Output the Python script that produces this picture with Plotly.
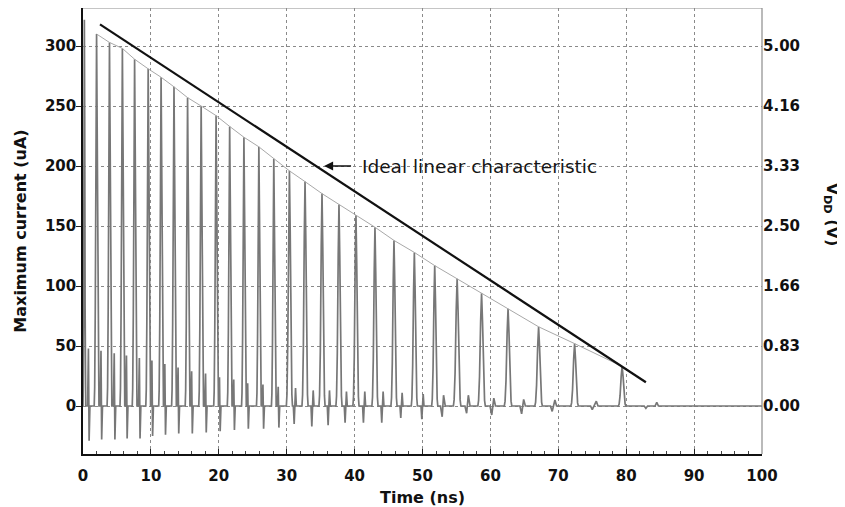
import plotly.graph_objects as go

# ---- data ----
# large current pulses: time (ns) and peak current (uA)
peak_t = [0.2, 2.0, 3.9, 5.8, 7.6, 9.6, 11.5, 13.4, 15.4, 17.4, 19.6, 21.6, 23.7, 25.9, 28.1,
          30.4, 32.7, 35.2, 37.7, 40.2, 43.0, 45.8, 48.8, 51.8, 55.1, 58.7, 62.6, 67.1, 72.4, 79.4]
peak_h = [322, 310, 303, 298, 289, 281, 274, 266, 257, 250, 242, 233, 224, 216, 206,
          196, 187, 177, 168, 159, 149, 138, 128, 117, 106, 94, 81, 66, 52, 33]

# small ringing after each pulse: negative dip and positive bump
dip_t = [0.9, 2.75, 4.7, 6.5, 8.4, 10.25, 12.15, 14.1, 16.1, 18.15, 20.2, 22.3, 24.35, 26.6, 28.85,
         31.1, 33.7, 36.1, 38.6, 41.3, 44.0, 46.8, 49.9, 52.9, 56.5, 60.2, 64.6, 69.1, 75.0, 82.9]
dip_v = [-29, -28, -28, -27, -27, -25, -24, -23, -23, -22, -21, -20, -19, -19, -18,
         -15, -17, -16, -14, -14, -14, -10, -11, -9, -6, -7.5, -6.5, -4.5, -3, -2]
bump_t = [0.8, 2.65, 4.6, 6.4, 8.3, 10.15, 12.05, 14.0, 16.0, 18.05, 20.1, 22.2, 24.25, 26.5, 28.75,
          31.3, 33.9, 36.3, 38.8, 41.5, 44.2, 47.0, 50.1, 53.1, 56.75, 60.5, 64.9, 69.5, 75.6, 84.5]
bump_h = [48, 46, 44, 42, 40, 38, 35, 32, 29, 27, 24, 22, 19, 18, 16,
          15, 13, 13, 12, 12, 12, 11, 10, 9, 9, 6.5, 5.5, 5, 4, 3]

# ideal linear characteristic (VDD ramp, volts)
ideal_t = [2.5, 82.9]
ideal_v = [5.30, 0.33]

x_ticks = [0, 10, 20, 30, 40, 50, 60, 70, 80, 90, 100]
y_ticks = [0, 50, 100, 150, 200, 250, 300]
v_ticks = [0, 50 / 60, 100 / 60, 150 / 60, 200 / 60, 250 / 60, 300 / 60]
v_labels = ["0.00", "0.83", "1.66", "2.50", "3.33", "4.16", "5.00"]

# ---- build the waveform polyline from the read values ----
sig_t = [0.0]
sig_i = [0.0]
shape_off = [-1.0, -0.8, -0.55, -0.25, 0.0, 0.25, 0.55, 0.8, 1.0]
shape_frac = [0.0, 0.05, 0.26, 0.75, 1.0, 0.75, 0.26, 0.05, 0.0]
for k in range(len(peak_t)):
    t0 = peak_t[k]
    w = 0.2 if k == 0 else (0.35 if t0 < 30 else (0.45 if t0 < 55 else 0.55))
    for o, f in zip(shape_off, shape_frac):
        sig_t.append(t0 + o * w)
        sig_i.append(peak_h[k] * f)
    feats = sorted([(dip_t[k], dip_v[k]), (bump_t[k], bump_h[k])])
    fw = 0.12 if feats[0][0] < 50 else 0.25
    (ta, va), (tb, vb) = feats
    sig_t += [ta - fw, ta]
    sig_i += [0.0, va]
    if tb - ta > 2 * fw:
        sig_t += [ta + fw, tb - fw]
        sig_i += [0.0, 0.0]
    sig_t += [tb, tb + fw]
    sig_i += [vb, 0.0]
sig_t.append(100.0)
sig_i.append(0.0)

FONT = "DejaVu Sans"

fig = go.Figure()
fig.add_trace(go.Scatter(x=sig_t, y=sig_i, mode="lines",
                         line=dict(color="#777777", width=1.7),
                         showlegend=False, hoverinfo="skip"))
fig.add_trace(go.Scatter(x=peak_t[1:], y=peak_h[1:], mode="lines",
                         line=dict(color="#a8a8a8", width=1),
                         showlegend=False, hoverinfo="skip"))
fig.add_trace(go.Scatter(x=ideal_t, y=ideal_v, mode="lines", yaxis="y2",
                         line=dict(color="#111111", width=2.2),
                         showlegend=False, hoverinfo="skip"))

tickfont = dict(family=FONT, size=15, color="#111111", weight="bold")
titlefont = dict(family=FONT, size=16, color="#111111", weight="bold")

# the page body adds an 8px offset; the figure is sized to fit the 845x507 window
fig.update_layout(
    width=837, height=499,
    margin=dict(l=75, r=83, t=0, b=53, autoexpand=False),
    paper_bgcolor="white", plot_bgcolor="white",
    xaxis=dict(
        range=[0, 100], tickvals=x_ticks, ticks="inside", ticklen=5, tickwidth=1.2,
        tickcolor="#222", showline=True, linecolor="#111", linewidth=1.6,
        showgrid=True, gridcolor="#8a8a8a", griddash="dot", gridwidth=1,
        zeroline=False, tickfont=tickfont, ticklabelstandoff=7, automargin=False,
        minor=dict(dtick=2, ticks="inside", ticklen=3, tickcolor="#444", showgrid=False),
        title=dict(text="Time (ns)", font=titlefont, standoff=11),
    ),
    yaxis=dict(
        range=[-40, 331.7], tickvals=y_ticks, ticks="outside", ticklen=5, tickwidth=1.2,
        tickcolor="#222", showline=True, linecolor="#111", linewidth=1.6,
        showgrid=True, gridcolor="#8a8a8a", griddash="dot", gridwidth=1,
        zeroline=False, tickfont=tickfont, automargin=False, ticklabelstandoff=-3,
        title=dict(text="Maximum current (uA)", font=titlefont, standoff=14),
    ),
    yaxis2=dict(
        overlaying="y", side="right", range=[-40 / 60, 331.7 / 60],
        tickvals=v_ticks, ticktext=v_labels, ticks="", showline=False,
        showgrid=False, zeroline=False, tickfont=tickfont, automargin=False,
    ),
    shapes=[
        dict(type="line", xref="paper", yref="paper", x0=0, x1=1, y0=1, y1=1,
             line=dict(color="#8c8c8c", width=1.2)),
        dict(type="line", xref="paper", yref="paper", x0=1, x1=1, y0=0, y1=1,
             line=dict(color="#8c8c8c", width=1.2)),
    ],
    annotations=[
        dict(x=35.5, y=200, xref="x", yref="y", ax=39.7, ay=200, axref="x", ayref="y",
             text="", showarrow=True, arrowhead=2, arrowsize=1.3, arrowwidth=1.4,
             arrowcolor="#111"),
        dict(x=40.8, y=200, xref="x", yref="y", text="Ideal linear characteristic",
             showarrow=False, xanchor="left", yanchor="middle",
             font=dict(family=FONT, size=18.5, color="#151515")),
        dict(x=1.102, y=0.536, xref="paper", yref="paper",
             text="V<sub>DD</sub> (V)", showarrow=False, textangle=90,
             xanchor="center", yanchor="middle", font=titlefont),
    ],
)

fig.write_html("out.html")
